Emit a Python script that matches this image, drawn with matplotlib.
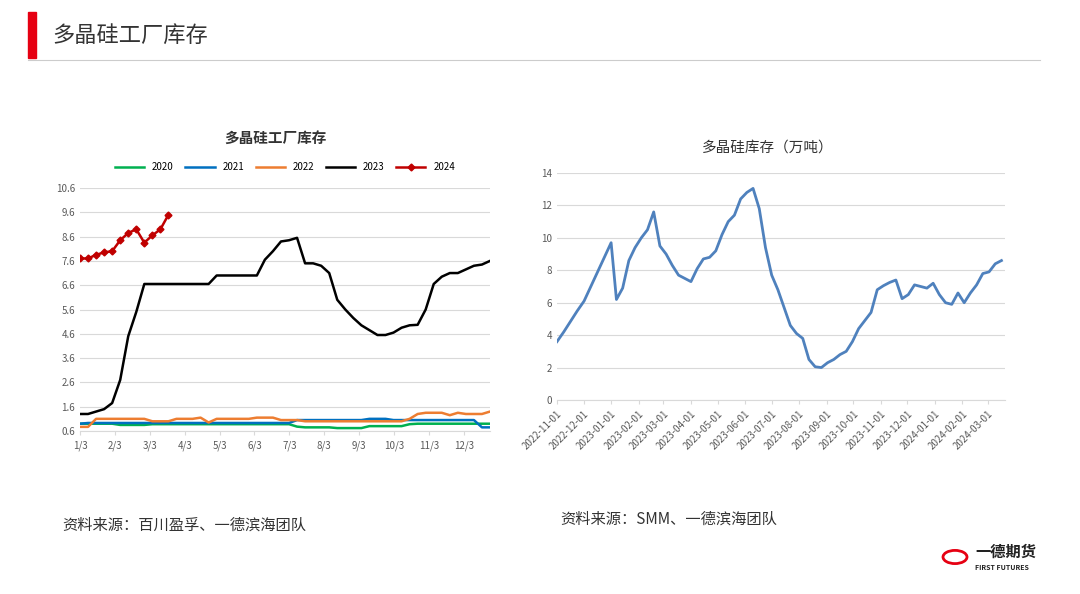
import numpy as np
import pandas as pd
import matplotlib.pyplot as plt
import matplotlib.dates as mdates
from matplotlib.patches import Rectangle, Circle

plt.rcParams['font.family'] = ['Noto Sans CJK SC']

# ---- left chart: weekly factory inventory by year ----
inv_2020 = [0.9]*5 + [0.85]*4 + [0.88]*18 + [0.78] + [0.75]*4 + [0.72]*4 + [0.8]*5 + [0.88] + [0.9]*10
inv_2021 = [0.9] + [0.93]*26 + [1.05]*9 + [1.1]*3 + [1.05]*11 + [0.75]*2
inv_2022 = ([0.77, 0.77] + [1.1]*7 + [1.0]*3 + [1.1]*3 + [1.15, 0.95] + [1.1]*5 + [1.15]*3
            + [1.05]*3 + [1.0]*13 + [1.1, 1.3, 1.35, 1.35, 1.35, 1.25, 1.35, 1.3, 1.3, 1.3, 1.4])
inv_2023 = ([1.3, 1.3, 1.4, 1.5, 1.75, 2.7, 4.5, 5.5] + [6.65]*9 + [7.0]*6
            + [7.65, 8.0, 8.4, 8.45, 8.55, 7.5, 7.5, 7.4, 7.1, 6.0, 5.6, 5.25, 4.95, 4.75,
               4.55, 4.55, 4.65, 4.85, 4.95, 4.97, 5.6, 6.65, 6.95, 7.1, 7.1, 7.25, 7.4, 7.45, 7.6])
inv_2024 = [7.7, 7.7, 7.85, 7.95, 8.0, 8.45, 8.75, 8.9, 8.35, 8.65, 8.9, 9.5]
month_labels = ['1/3', '2/3', '3/3', '4/3', '5/3', '6/3', '7/3', '8/3', '9/3', '10/3', '11/3', '12/3']

# ---- right chart: SMM inventory (10k t) ----
smm_head = [3.6, 4.2, 4.85, 5.5, 6.1, 7.0, 7.9, 8.8, 9.7]
smm_weekly = [6.2, 6.9, 8.6, 9.4, 10.0, 10.5, 11.6, 9.5, 9.0, 8.3, 7.7, 7.5, 7.3, 8.1, 8.7,
              8.8, 9.2, 10.2, 11.0, 11.4, 12.4, 12.8, 13.05, 11.8, 9.4, 7.7, 6.8, 5.7, 4.6,
              4.1, 3.8, 2.5, 2.05, 2.0, 2.3, 2.5, 2.8, 3.0, 3.6, 4.4, 4.9, 5.4, 6.8, 7.05,
              7.25, 7.4, 6.25, 6.5, 7.1, 7.0, 6.9, 7.2, 6.5, 6.0, 5.9, 6.6, 6.0, 6.6, 7.1,
              7.8, 7.9, 8.4, 8.6]

smm_dates = list(pd.date_range('2022-11-01', '2023-01-01', periods=len(smm_head))) + \
    list(pd.date_range('2023-01-07', periods=len(smm_weekly), freq='7D'))
smm_vals = smm_head + smm_weekly

fig = plt.figure(figsize=(10.8, 5.94), dpi=100)
fig.patch.set_facecolor('white')

# header
fig.add_artist(Rectangle((28/1080, 1-58/594), 8/1080, 46/594, color='#e60012', transform=fig.transFigure))
fig.text(52/1080, 1-35/594, '多晶硅工厂库存', fontsize=16, va='center', color='#333333')
fig.add_artist(plt.Line2D([28/1080, 1040/1080], [1-60/594]*2, color='#cccccc', lw=0.8))

# left chart
ax1 = fig.add_axes([80/1080, 1-431/594, 410/1080, 243/594])
for vals, c, name in [(inv_2020, '#00b050', '2020'), (inv_2021, '#0070c0', '2021'),
                      (inv_2022, '#ed7d31', '2022'), (inv_2023, 'black', '2023')]:
    ax1.plot(np.arange(len(vals)), vals, color=c, lw=1.8, label=name)
ax1.plot(np.arange(len(inv_2024)), inv_2024, color='#c00000', lw=1.8, marker='D', ms=3.5, label='2024')
ax1.set_ylim(0.6, 10.6)
ax1.set_yticks(np.arange(0.6, 10.7, 1.0))
ax1.set_xlim(0, 51)
ax1.set_xticks(np.arange(12) * 51 / 11.75)
ax1.set_xticklabels(month_labels)
ax1.grid(axis='y', color='#d9d9d9', lw=0.8)
for s in ['top', 'right', 'left']:
    ax1.spines[s].set_visible(False)
ax1.spines['bottom'].set_color('#d9d9d9')
ax1.tick_params(length=0, labelsize=7, colors='#595959')
ax1.tick_params(axis='x', length=3, color='#d9d9d9')
ax1.legend(loc='lower center', bbox_to_anchor=(0.5, 1.03), ncol=5, frameon=False, fontsize=7,
           handlelength=3, columnspacing=1.2)
fig.text(275/1080, 1-138/594, '多晶硅工厂库存', fontsize=10.5, fontweight='bold', ha='center', va='center', color='#333333')

# right chart
ax2 = fig.add_axes([557/1080, 1-400/594, 448/1080, 227/594])
ax2.plot(smm_dates, smm_vals, color='#4f81bd', lw=2)
ax2.set_ylim(0, 14)
ax2.set_yticks(range(0, 15, 2))
ax2.set_xlim(pd.Timestamp('2022-11-01'), pd.Timestamp('2024-03-20'))
ax2.xaxis.set_major_locator(mdates.MonthLocator())
ax2.xaxis.set_major_formatter(mdates.DateFormatter('%Y-%m-%d'))
plt.setp(ax2.get_xticklabels(), rotation=45, ha='right', rotation_mode='anchor')
ax2.grid(axis='y', color='#d9d9d9', lw=0.8)
for s in ['top', 'right', 'left']:
    ax2.spines[s].set_visible(False)
ax2.spines['bottom'].set_color('#d9d9d9')
ax2.tick_params(length=0, labelsize=7, colors='#595959')
ax2.tick_params(axis='x', length=3, color='#d9d9d9')
fig.text(768/1080, 1-148/594, '多晶硅库存（万吨）', fontsize=10.5, ha='center', va='center', color='#333333')

# sources
fig.text(62/1080, 1-525/594, '资料来源：百川盈孚、一德滨海团队', fontsize=11, va='center', color='#333333')
fig.text(560/1080, 1-519/594, '资料来源：SMM、一德滨海团队', fontsize=11, va='center', color='#333333')

# logo
fig.add_artist(Circle((955/1080, 1-557/594), 12/1080, transform=fig.transFigure,
                      facecolor='none', edgecolor='#e60012', lw=2))
fig.text(975/1080, 1-552/594, '一德期货', fontsize=11, fontweight='bold', va='center', color='#222222')
fig.text(975/1080, 1-568/594, 'FIRST FUTURES', fontsize=5, fontweight='bold', va='center', color='#222222')

fig.savefig('out.png', dpi=100)
